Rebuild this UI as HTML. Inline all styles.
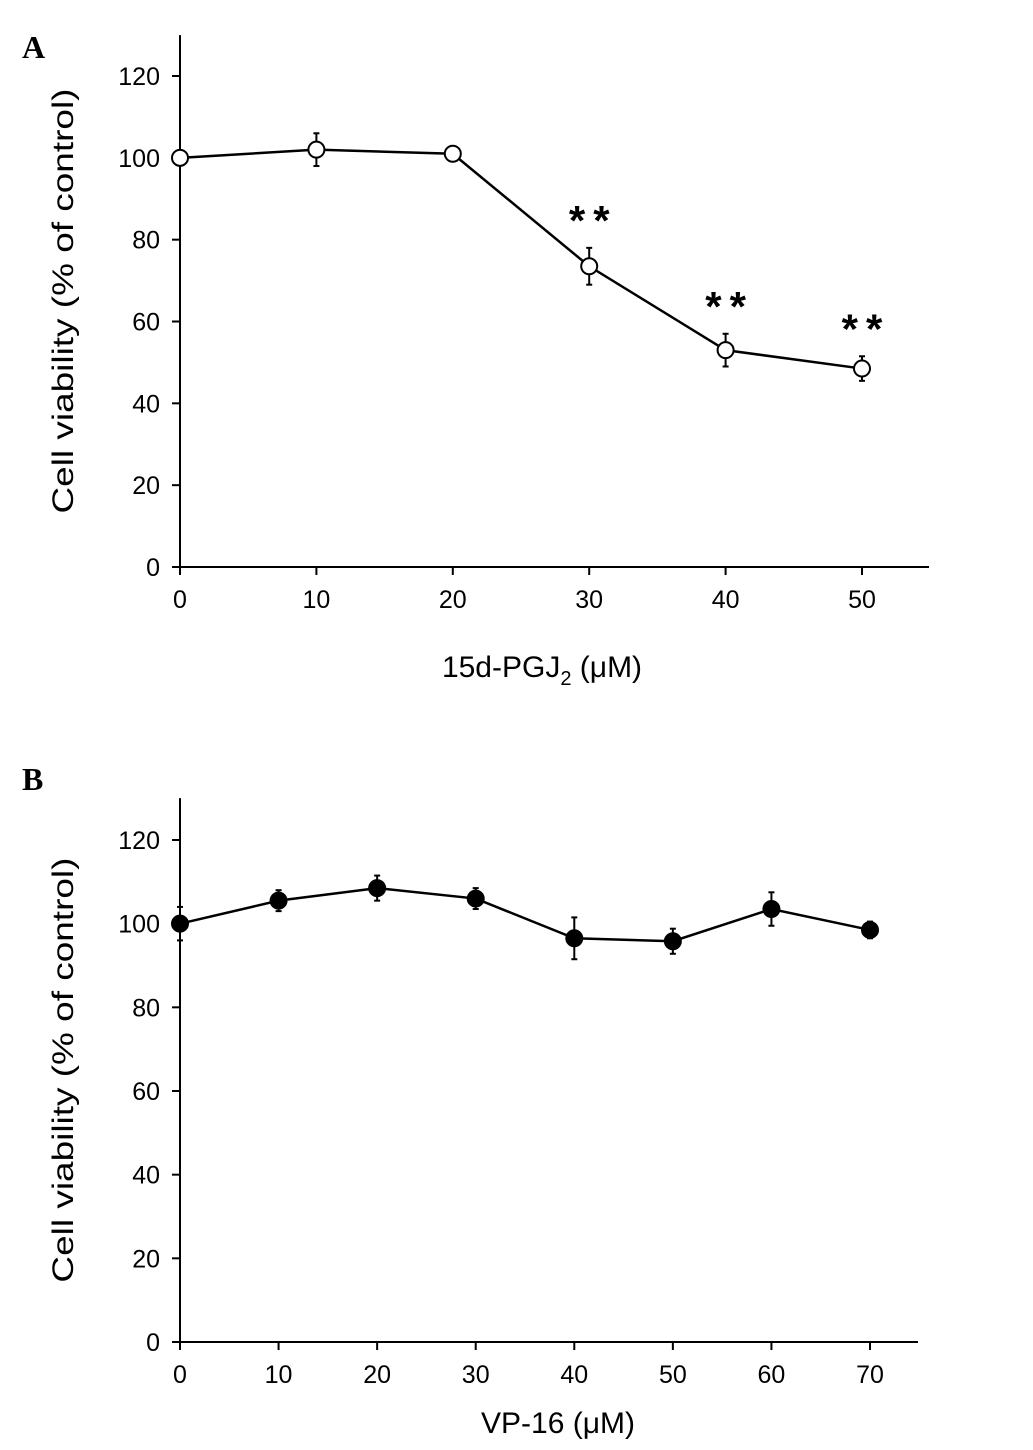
<!DOCTYPE html>
<html><head><meta charset="utf-8"><style>
body{margin:0;background:#fff;}
svg{display:block;font-family:"Liberation Sans",sans-serif;}
</style></head><body>
<svg id="s" width="1033" height="1450">
<text x="22" y="58" font-family="Liberation Serif" font-weight="bold" font-size="32">A</text>
<text x="22" y="790" font-family="Liberation Serif" font-weight="bold" font-size="32">B</text>
<g id="ga"></g>
<g id="gb"></g>
</svg>
<script>
const aX=[0,10,20,30,40,50];
const aY=[100,102,101,73.5,53,48.5];
const aErr=[0,4,0,4.5,4,3];
const aSig=[false,false,false,true,true,true];
const aXTicks=[0,10,20,30,40,50];
const bX=[0,10,20,30,40,50,60,70];
const bY=[100,105.5,108.5,106,96.5,95.8,103.5,98.5];
const bErr=[4,2.5,3,2.5,5,3,4,2];
const bXTicks=[0,10,20,30,40,50,60,70];
const yTicks=[0,20,40,60,80,100,120];
const NS="http://www.w3.org/2000/svg";
function mk(p,t,a){const e=document.createElementNS(NS,t);for(const k in a)e.setAttribute(k,a[k]);p.appendChild(e);return e;}
function chart(g,cfg){
  const sx=v=>cfg.x0+v*(cfg.x1-cfg.x0)/cfg.xmaxTick;
  const sy=v=>cfg.y0-v*(cfg.y0-cfg.y120)/120;
  const ya=mk(g,'line',{x1:cfg.x0,y1:sy(130),x2:cfg.x0,y2:cfg.y0,stroke:'#000','stroke-width':2});
  
  
  const xa=mk(g,'line',{x1:cfg.x0,y1:cfg.y0,x2:cfg.xend,y2:cfg.y0,stroke:'#000','stroke-width':2});
  
  
  yTicks.forEach(t=>{
    mk(g,'line',{x1:cfg.x0-8,y1:sy(t),x2:cfg.x0,y2:sy(t),stroke:'#000','stroke-width':2});
    const tx=mk(g,'text',{x:cfg.x0-20,y:sy(t)+9,'text-anchor':'end','font-size':25});
    tx.textContent=t;
    
    
  });
  cfg.xt.forEach(t=>{
    mk(g,'line',{x1:sx(t),y1:cfg.y0,x2:sx(t),y2:cfg.y0+8,stroke:'#000','stroke-width':2});
    const tx=mk(g,'text',{x:sx(t),y:cfg.y0+41,'text-anchor':'middle','font-size':25});
    tx.textContent=t;
    
    
  });
  const pl=mk(g,'polyline',{points:cfg.xs.map((v,i)=>sx(v)+','+sy(cfg.ys[i])).join(' '),fill:'none',stroke:'#000','stroke-width':2.5});
  
  
  cfg.xs.forEach((v,i)=>{
    const cx=sx(v),cy=sy(cfg.ys[i]),e=cfg.err[i];
    if(e>0){
      mk(g,'line',{x1:cx,y1:sy(cfg.ys[i]+e),x2:cx,y2:sy(cfg.ys[i]-e),stroke:'#000','stroke-width':2});
      mk(g,'line',{x1:cx-3,y1:sy(cfg.ys[i]+e),x2:cx+3,y2:sy(cfg.ys[i]+e),stroke:'#000','stroke-width':2});
      mk(g,'line',{x1:cx-3,y1:sy(cfg.ys[i]-e),x2:cx+3,y2:sy(cfg.ys[i]-e),stroke:'#000','stroke-width':2});
    }
    const c=mk(g,'circle',{cx:cx,cy:cy,r:8,fill:cfg.fill,stroke:'#000','stroke-width':2});
    
    
    if(cfg.sig&&cfg.sig[i]){
      const s=mk(g,'text',{x:cx+4,y:sy(cfg.ys[i]+cfg.err[i])-13,'text-anchor':'middle','font-size':42,'font-weight':'bold','letter-spacing':'8'});
      s.textContent='**';
      
      
    }
  });
  const yt=mk(g,'text',{transform:`translate(${cfg.x0-107},${(cfg.y0+sy(130))/2}) rotate(-90)`,'text-anchor':'middle','font-size':30,textLength:425,lengthAdjust:'spacingAndGlyphs'});
  yt.textContent='Cell viability (% of control)';
  
  
  const xt=mk(g,'text',{x:cfg.xtx,y:cfg.xty,'text-anchor':'middle','font-size':30});
  xt.innerHTML=cfg.xtitle;
  
  
}
chart(document.getElementById('ga'),{x0:180,x1:862,xmaxTick:50,xend:929,y0:567,y120:76,xt:aXTicks,xs:aX,ys:aY,err:aErr,sig:aSig,fill:'#fff',
  xtitle:'15d-PGJ<tspan font-size="20" dy="8">2</tspan><tspan dy="-8"> (μM)</tspan>',xtx:542,xty:677});
chart(document.getElementById('gb'),{x0:180,x1:870,xmaxTick:70,xend:918,y0:1342,y120:840,xt:bXTicks,xs:bX,ys:bY,err:bErr,sig:null,fill:'#000',
  xtitle:'VP-16 (μM)',xtx:558,xty:1433});
</script>
</body></html>
